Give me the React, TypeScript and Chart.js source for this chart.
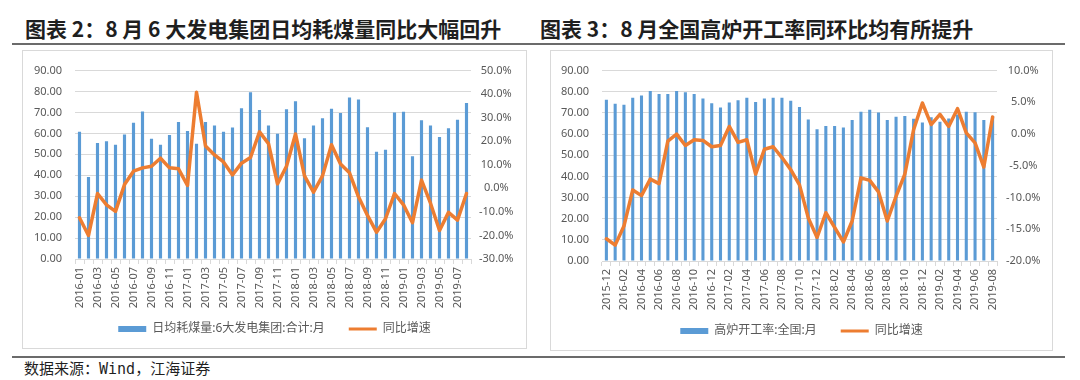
import React, { useEffect, useRef } from 'react';
import { Chart, registerables } from 'chart.js';

Chart.register(...registerables);

// ---------- data ----------
const leftCategories = [
  '2016-01', '2016-02', '2016-03', '2016-04', '2016-05', '2016-06', '2016-07', '2016-08', '2016-09', '2016-10', '2016-11', '2016-12',
  '2017-01', '2017-02', '2017-03', '2017-04', '2017-05', '2017-06', '2017-07', '2017-08', '2017-09', '2017-10', '2017-11', '2017-12',
  '2018-01', '2018-02', '2018-03', '2018-04', '2018-05', '2018-06', '2018-07', '2018-08', '2018-09', '2018-10', '2018-11', '2018-12',
  '2019-01', '2019-02', '2019-03', '2019-04', '2019-05', '2019-06', '2019-07', '2019-08',
];
const leftCoal = [
  60.8, 39.2, 55.4, 56.2, 54.6, 59.5, 65.1, 70.5, 57.4, 54.6, 59.2, 65.5,
  61.2, 55.1, 65.5, 63.8, 60.8, 62.8, 72.0, 79.7, 71.2, 63.8, 59.8, 71.5,
  75.4, 57.7, 63.8, 67.2, 71.8, 69.7, 77.2, 76.2, 62.9, 51.2, 52.2, 70.0,
  70.3, 49.1, 66.3, 63.8, 58.3, 62.5, 66.5, 74.5,
];
const leftYoY = [
  -12.5, -20.0, -2.2, -7.0, -9.8, 1.6, 7.3, 8.7, 9.4, 12.8, 8.7, 8.3,
  1.2, 40.8, 18.0, 14.2, 11.2, 5.7, 10.7, 13.1, 24.0, 19.0, 1.9, 9.4,
  23.1, 5.3, -1.6, 5.3, 18.5, 10.3, 6.6, -3.6, -11.5, -18.6, -12.9, -2.2,
  -7.0, -14.6, 3.5, -6.3, -17.9, -10.2, -13.5, -2.2,
];
const leftLegendNames = ['日均耗煤量:6大发电集团:合计:月', '同比增速'];

const rightCategories = [
  '2015-12',
  '2016-01', '2016-02', '2016-03', '2016-04', '2016-05', '2016-06', '2016-07', '2016-08', '2016-09', '2016-10', '2016-11', '2016-12',
  '2017-01', '2017-02', '2017-03', '2017-04', '2017-05', '2017-06', '2017-07', '2017-08', '2017-09', '2017-10', '2017-11', '2017-12',
  '2018-01', '2018-02', '2018-03', '2018-04', '2018-05', '2018-06', '2018-07', '2018-08', '2018-09', '2018-10', '2018-11', '2018-12',
  '2019-01', '2019-02', '2019-03', '2019-04', '2019-05', '2019-06', '2019-07', '2019-08',
];
const rightRate = [
  76.2,
  74.3, 73.8, 77.2, 78.2, 80.3, 78.9, 78.9, 80.3, 79.8, 78.9, 76.8, 74.6,
  72.6, 74.9, 76.0, 77.2, 75.2, 76.8, 77.2, 77.2, 75.7, 72.8, 66.9, 62.3,
  63.8, 63.8, 63.1, 66.6, 70.5, 71.5, 70.2, 66.6, 68.2, 68.5, 67.2, 65.5,
  68.0, 65.8, 67.4, 69.2, 70.5, 70.3, 66.6, 68.5,
];
const rightYoY = [
  -16.5,
  -17.5, -14.5, -8.8, -9.7, -7.1, -7.8, -1.1, 0.0, -1.8, -0.9, -1.0, -2.0,
  -1.8, 1.2, -1.3, -0.9, -6.3, -2.4, -2.0, -3.7, -5.6, -8.0, -13.2, -16.3,
  -12.4, -14.7, -17.0, -13.7, -6.9, -7.3, -9.1, -13.7, -9.8, -6.3, 0.7, 4.9,
  1.5, 3.1, 1.2, 4.0, 0.2, -1.4, -5.2, 2.7,
];
const rightLegendNames = ['高炉开工率:全国:月', '同比增速'];

// ---------- styles ----------
const BLUE = '#5B9BD5';
const ORANGE = '#ED7D31';
const GRID = '#D9D9D9';
const TEXT = '#595959';
const FONT = "'Noto Sans', 'Noto Sans CJK SC', sans-serif";

type PanelProps = {
  labels: string[];
  bars: number[];
  line: number[];
  names: string[];
  leftMin: number; leftMax: number; leftStep: number;
  rightMin: number; rightMax: number; rightStep: number;
  width: number; height: number;
  leftAxisWidth: number; rightAxisWidth: number; rightPad: number;
};

function Panel(p: PanelProps) {
  const ref = useRef<HTMLCanvasElement | null>(null);
  useEffect(() => {
    if (!ref.current) return;
    const chart = new Chart(ref.current, {
      type: 'bar',
      data: {
        labels: p.labels,
        datasets: [
          {
            type: 'bar',
            label: p.names[0],
            data: p.bars,
            backgroundColor: BLUE,
            yAxisID: 'y',
            order: 2,
            categoryPercentage: 1,
            barPercentage: 0.35,
          } as any,
          {
            type: 'line',
            label: p.names[1],
            data: p.line,
            borderColor: ORANGE,
            backgroundColor: ORANGE,
            borderWidth: 3.5,
            pointRadius: 0,
            tension: 0,
            yAxisID: 'y1',
            order: 1,
            borderJoinStyle: 'round',
            borderCapStyle: 'round',
          } as any,
        ],
      },
      options: {
        animation: false,
        responsive: false,
        maintainAspectRatio: false,
        layout: { padding: { top: 14, bottom: 3, left: 0, right: 0 } },
        font: { family: FONT },
        plugins: {
          tooltip: { enabled: false },
          legend: {
            position: 'bottom',
            labels: {
              usePointStyle: true,
              pointStyleWidth: 28,
              boxWidth: 28,
              boxHeight: 6,
              padding: 24,
              color: TEXT,
              font: { size: 12, family: FONT },
              generateLabels: () => [
                { text: p.names[0], fillStyle: BLUE, strokeStyle: BLUE, lineWidth: 0, pointStyle: 'rect', datasetIndex: 0, hidden: false, fontColor: TEXT } as any,
                { text: p.names[1], fillStyle: ORANGE, strokeStyle: ORANGE, lineWidth: 3, pointStyle: 'line', datasetIndex: 1, hidden: false, fontColor: TEXT } as any,
              ],
            },
          },
        },
        scales: {
          x: {
            offset: true,
            grid: { display: true, drawOnChartArea: false, drawTicks: true, tickLength: 5, color: GRID, offset: true },
            border: { display: true, color: GRID },
            ticks: {
              autoSkip: false,
              maxRotation: 90,
              minRotation: 90,
              padding: 3,
              color: TEXT,
              font: { size: 11, family: FONT },
              callback: (_v: any, i: number) => (i % 2 === 0 ? p.labels[i] : ''),
            },
            afterFit: (s: any) => {
              s.height = 40;
              s._computeLabelArea = () => undefined;
            },
          },
          y: {
            position: 'left',
            min: p.leftMin,
            max: p.leftMax,
            ticks: {
              stepSize: p.leftStep,
              padding: 13,
              color: TEXT,
              font: { size: 11, family: FONT },
              callback: (v: any) => Number(v).toFixed(2),
            },
            grid: { color: GRID, drawTicks: false },
            border: { display: false },
            afterFit: (s: any) => { s.width = p.leftAxisWidth; },
          },
          y1: {
            position: 'right',
            min: p.rightMin,
            max: p.rightMax,
            ticks: {
              stepSize: p.rightStep,
              padding: p.rightPad,
              crossAlign: 'center',
              color: TEXT,
              font: { size: 11, family: FONT },
              callback: (v: any) => Number(v).toFixed(1) + '%',
            },
            grid: { drawOnChartArea: false, drawTicks: false },
            border: { display: false },
            afterFit: (s: any) => { s.width = p.rightAxisWidth; },
          },
        },
      } as any,
    });
    return () => chart.destroy();
  }, []);
  return <canvas ref={ref} width={p.width} height={p.height} style={{ display: 'block', width: p.width, height: p.height }} />;
}

const titleStyle: React.CSSProperties = {
  position: 'absolute',
  top: 18,
  fontFamily: "'Noto Sans CJK SC', sans-serif",
  fontWeight: 700,
  fontSize: 21,
  lineHeight: '21px',
  color: '#1f1f1f',
  whiteSpace: 'nowrap',
};

export default function App() {
  return (
    <div style={{ position: 'absolute', left: 0, top: 0, width: 1080, height: 380, background: '#fff', overflow: 'hidden' }}>
      <div style={{ ...titleStyle, left: 25 }}>图表 2：8 月 6 大发电集团日均耗煤量同比大幅回升</div>
      <div style={{ ...titleStyle, left: 540 }}>图表 3：8 月全国高炉开工率同环比均有所提升</div>
      <div style={{ position: 'absolute', left: 12, top: 43, width: 1053, height: 2, background: '#6b6b6b' }} />

      <div style={{ position: 'absolute', left: 22, top: 50, width: 503, height: 297, border: `1px solid ${GRID}` }}>
        <Panel
          labels={leftCategories} bars={leftCoal} line={leftYoY} names={leftLegendNames}
          leftMin={0} leftMax={90} leftStep={10}
          rightMin={-30} rightMax={50} rightStep={10}
          width={503} height={297} leftAxisWidth={52} rightAxisWidth={55} rightPad={8}
        />
      </div>

      <div style={{ position: 'absolute', left: 550, top: 50, width: 501, height: 299, border: `1px solid ${GRID}` }}>
        <Panel
          labels={rightCategories} bars={rightRate} line={rightYoY} names={rightLegendNames}
          leftMin={0} leftMax={90} leftStep={10}
          rightMin={-20} rightMax={10} rightStep={5}
          width={501} height={299} leftAxisWidth={51} rightAxisWidth={55} rightPad={9}
        />
      </div>

      <div style={{ position: 'absolute', left: 12, top: 356, width: 1053, height: 2, background: '#6b6b6b' }} />
      <div style={{ position: 'absolute', left: 24, top: 360, fontFamily: "'Noto Sans CJK SC', sans-serif", fontSize: 15, lineHeight: '15px', color: '#1f1f1f', whiteSpace: 'nowrap' }}>
        数据来源：<span style={{ fontFamily: "'DejaVu Sans Mono', 'Liberation Mono', monospace" }}>Wind</span>，江海证券
      </div>
    </div>
  );
}
